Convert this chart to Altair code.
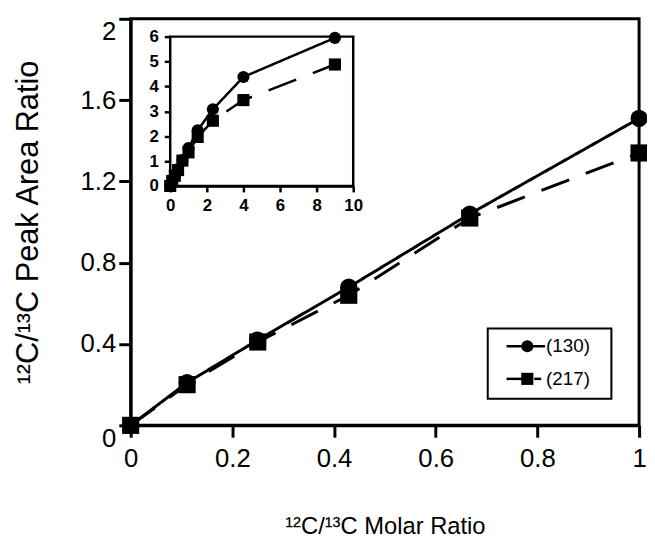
import altair as alt
import pandas as pd

series_names = ["(130)", "(217)"]

# main panel
ratio = [0, 0.111, 0.25, 0.429, 0.667, 1.0]
s130_main = [0, 0.21, 0.42, 0.68, 1.04, 1.51]
s217_main = [0, 0.20, 0.41, 0.64, 1.02, 1.34]

# inset panel
inset_ratio = [0, 0.111, 0.25, 0.429, 0.667, 1.0, 1.5, 2.33, 4.0, 9.0]
s130_inset = [0, 0.21, 0.42, 0.68, 1.04, 1.52, 2.24, 3.08, 4.38, 5.95]
s217_inset = [0, 0.20, 0.41, 0.64, 1.02, 1.35, 1.97, 2.62, 3.45, 4.88]

main_x_ticks = [0, 0.2, 0.4, 0.6, 0.8, 1.0]
main_y_ticks = [0, 0.4, 0.8, 1.2, 1.6, 2.0]
inset_x_ticks = [0, 2, 4, 6, 8, 10]
inset_y_ticks = [0, 1, 2, 3, 4, 5, 6]

W, H = 514, 411
FONT = "Liberation Sans"

df_main = pd.DataFrame({
    "ratio": ratio * 2,
    "value": s130_main + s217_main,
    "series": [series_names[0]] * len(ratio) + [series_names[1]] * len(ratio),
})
df_inset = pd.DataFrame({
    "ratio": inset_ratio * 2,
    "value": s130_inset + s217_inset,
    "series": [series_names[0]] * len(inset_ratio) + [series_names[1]] * len(inset_ratio),
})

mx = alt.Scale(domain=[0, 1], nice=False, zero=False)
my = alt.Scale(domain=[0, 2], nice=False, zero=False)

main_xaxis = alt.Axis(
    values=main_x_ticks, format=".1~f", title="¹²C/¹³C Molar Ratio", grid=False,
    labelFont=FONT, labelFontSize=26, labelColor="black", labelPadding=9,
    tickSize=12, tickWidth=3, tickColor="black", domainColor="black", domainWidth=3,
    titleFont=FONT, titleFontSize=24, titleFontWeight="normal", titleColor="black",
    titlePadding=43, labelFlush=False,
)
main_yaxis = alt.Axis(
    values=main_y_ticks, format=".1~f", title="¹²C/¹³C Peak Area Ratio", grid=False,
    labelFont=FONT, labelFontSize=26, labelColor="black", labelPadding=3,
    labelBaseline=alt.condition("datum.value == 0 || datum.value == 2", alt.value("top"), alt.value("middle")),
    tickSize=12, tickWidth=3, tickColor="black", domainColor="black", domainWidth=3,
    titleFont=FONT, titleFontSize=31, titleFontWeight="normal", titleColor="black",
    titlePadding=36, labelFlush=False,
)

dash_scale = alt.Scale(domain=series_names, range=[[1, 0], [30, 18]])
shape_scale = alt.Scale(domain=series_names, range=["circle", "square"])

main_base = alt.Chart(df_main)
main_lines = main_base.mark_line(color="black", strokeWidth=3, clip=False).encode(
    x=alt.X("ratio:Q", scale=mx, axis=main_xaxis),
    y=alt.Y("value:Q", scale=my, axis=main_yaxis),
    strokeDash=alt.StrokeDash("series:N", scale=dash_scale, legend=None),
    detail="series:N",
)
main_points = main_base.mark_point(filled=True, color="black", opacity=1, size=300, clip=False).encode(
    x=alt.X("ratio:Q", scale=mx),
    y=alt.Y("value:Q", scale=my),
    shape=alt.Shape("series:N", scale=shape_scale, legend=None),
)
main_layer = alt.layer(main_lines, main_points)

# inset with its own scales placed inside the main plot area
ix = alt.Scale(domain=[0, 10], range=[40, 225], nice=False, zero=False)
iy = alt.Scale(domain=[0, 6], range=[169, 18], nice=False, zero=False)

inset_xaxis = alt.Axis(
    values=inset_x_ticks, format="d", title=None, grid=False, orient="bottom", offset=169 - H,
    labelFont=FONT, labelFontSize=17, labelFontWeight="bold", labelColor="black", labelPadding=6,
    tickSize=6, tickWidth=2.5, tickColor="black", domainColor="black", domainWidth=2.5,
    labelFlush=False,
)
inset_yaxis = alt.Axis(
    values=inset_y_ticks, format="d", title=None, grid=False, orient="left", offset=-40,
    labelFont=FONT, labelFontSize=17, labelFontWeight="bold", labelColor="black", labelPadding=6,
    tickSize=6, tickWidth=2.5, tickColor="black", domainColor="black", domainWidth=2.5,
    labelFlush=False,
)

frame_df = pd.DataFrame({"ratio": [inset_x_ticks[0]], "ratio_end": [inset_x_ticks[-1]],
                         "value": [inset_y_ticks[0]], "value_end": [inset_y_ticks[-1]]})
inset_frame = alt.Chart(frame_df).mark_rect(fill="white", stroke="black", strokeWidth=2.5).encode(
    x=alt.X("ratio:Q", scale=ix, axis=inset_xaxis),
    x2="ratio_end:Q",
    y=alt.Y("value:Q", scale=iy, axis=inset_yaxis),
    y2="value_end:Q",
)
inset_dash = alt.Scale(domain=series_names, range=[[1, 0], [11, 7]])
inset_base = alt.Chart(df_inset)
inset_lines = inset_base.mark_line(color="black", strokeWidth=2.5, clip=False).encode(
    x=alt.X("ratio:Q", scale=ix),
    y=alt.Y("value:Q", scale=iy),
    strokeDash=alt.StrokeDash("series:N", scale=inset_dash, legend=None),
    detail="series:N",
)
inset_points = inset_base.mark_point(filled=True, color="black", opacity=1, size=150, clip=False).encode(
    x=alt.X("ratio:Q", scale=ix),
    y=alt.Y("value:Q", scale=iy),
    shape=alt.Shape("series:N", scale=shape_scale, legend=None),
)
inset_layer = alt.layer(inset_frame, inset_lines, inset_points)

# hand-drawn legend box
one = pd.DataFrame({"a": [0]})
leg_box = alt.Chart(one).mark_rect(fill="white", stroke="black", strokeWidth=2).encode(
    x=alt.value(361), x2=alt.value(486), y=alt.value(313), y2=alt.value(384),
)
leg_line1 = alt.Chart(one).mark_rule(color="black", strokeWidth=2.5).encode(
    x=alt.value(380), x2=alt.value(419), y=alt.value(331),
)
leg_line2a = alt.Chart(one).mark_rule(color="black", strokeWidth=2.5).encode(
    x=alt.value(380), x2=alt.value(397), y=alt.value(364),
)
leg_line2b = alt.Chart(one).mark_rule(color="black", strokeWidth=2.5).encode(
    x=alt.value(408), x2=alt.value(415), y=alt.value(364),
)
leg_pt1 = alt.Chart(one).mark_point(filled=True, color="black", opacity=1, size=150, shape="circle").encode(
    x=alt.value(401), y=alt.value(331),
)
leg_pt2 = alt.Chart(one).mark_point(filled=True, color="black", opacity=1, size=150, shape="square").encode(
    x=alt.value(401), y=alt.value(364),
)
leg_txt1 = alt.Chart(one).mark_text(font=FONT, fontSize=19, align="left", baseline="middle", color="black").encode(
    x=alt.value(420), y=alt.value(331), text=alt.value(series_names[0]),
)
leg_txt2 = alt.Chart(one).mark_text(font=FONT, fontSize=19, align="left", baseline="middle", color="black").encode(
    x=alt.value(420), y=alt.value(364), text=alt.value(series_names[1]),
)
legend_layer = alt.layer(leg_box, leg_line1, leg_line2a, leg_line2b, leg_pt1, leg_pt2, leg_txt1, leg_txt2)

chart = alt.layer(main_layer, inset_layer, legend_layer).resolve_scale(
    x="independent", y="independent"
).properties(
    width=W, height=H,
    padding={"left": 124, "top": 8, "right": 8, "bottom": 115},
    autosize=alt.AutoSizeParams(type="none"),
    background="white",
).configure_view(
    stroke="black", strokeWidth=3
)

chart.save("out.html", embed_options={"renderer": "svg", "actions": False})
